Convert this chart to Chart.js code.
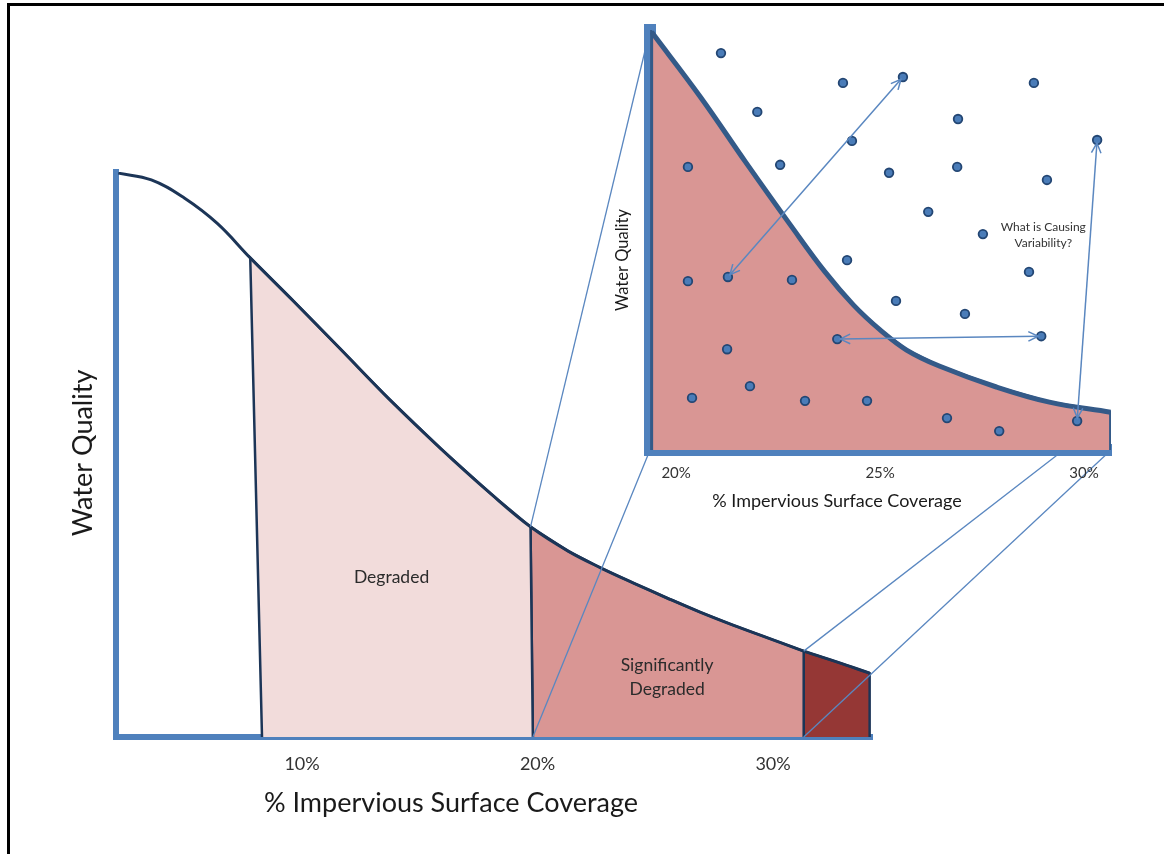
<!DOCTYPE html>
<html><head><meta charset="utf-8">
<script src="https://cdn.jsdelivr.net/npm/chart.js@4.4.0/dist/chart.umd.min.js"></script>
<style>
html,body{margin:0;padding:0;background:#fff;}
#wrap{position:relative;width:1164px;height:854px;overflow:hidden;background:#fff;}
#wrap canvas{position:absolute;left:0;top:0;width:1164px;height:854px;}
#frame{position:absolute;left:7px;top:3px;width:1170px;height:870px;border-left:3px solid #000;border-top:3px solid #000;pointer-events:none;}
</style></head><body>
<div id="wrap">
<canvas id="main" width="1164" height="854"></canvas>
<canvas id="inset" width="1164" height="854"></canvas>
<div id="frame"></div>
</div>
<script>
// ---------- main chart data ----------
const mainTicks = [10, 20, 30];
const curveX = [2.2, 3.6, 5.0, 6.4, 7.8, 9.6, 11.6, 13.7, 15.9, 18.0, 19.7, 21.3, 22.7, 24.1, 25.5, 26.9, 28.3, 29.8, 31.3, 32.7, 34.1];
const curveY = [99.8, 98.6, 95.4, 90.9, 84.8, 77.3, 68.8, 59.8, 51.0, 43.1, 37.2, 32.9, 29.9, 27.2, 24.6, 22.1, 19.8, 17.5, 15.2, 13.3, 11.3];
const zoneTopX = [7.8, 19.7, 31.3, 34.1];
const zoneBaseX = [8.3, 19.8, 31.3, 34.1];

// ---------- inset chart data ----------
const insetTicks = [20, 25, 30];
const insetCurveX = [19.4, 20.6, 21.7, 22.8, 23.65, 24.35, 25.0, 25.65, 26.45, 27.85, 29.15, 30.65];
const insetCurveY = [99.5, 84.0, 68.6, 53.6, 42.4, 34.5, 28.6, 23.8, 20.0, 15.0, 11.4, 9.0];
const siteX = [21.10, 24.09, 25.56, 28.77, 21.99, 26.91, 24.31, 30.32, 20.29, 22.55, 25.22, 26.89, 29.09, 26.18, 27.52, 24.19, 20.29, 21.27, 22.84, 28.65, 25.39, 27.08, 23.95, 28.95, 21.25, 21.81, 20.39, 23.16, 24.68, 26.64, 27.92, 29.83];
const siteY = [94.5, 87.4, 88.8, 87.4, 80.5, 78.8, 73.6, 73.8, 67.4, 67.9, 66.0, 67.4, 64.3, 56.7, 51.4, 45.2, 40.2, 41.2, 40.5, 42.4, 35.5, 32.4, 26.4, 27.1, 24.0, 15.2, 12.4, 11.7, 11.7, 7.6, 4.5, 6.9];
const arrowPairs = [[17, 2], [22, 23], [31, 7]];

// connectors: main (x,y) -> inset (x,y)
const connMainX = [19.7, 19.8, 31.3, 31.3];
const connMainY = [37.2, 0, 15.2, 0];
const connInsetX = [19.36, 19.36, 29.5, 30.66];
const connInsetY = [100, 0, 0, 0];

const F = 'Lato, "Open Sans", sans-serif';
const NAVY = '#1c3557';
const AXIS = '#4f81bd';

function drawText(ctx, text, x, y, size, color, rot) {
  ctx.save();
  ctx.translate(x, y);
  if (rot) ctx.rotate(rot);
  ctx.font = size + 'px ' + F;
  ctx.fillStyle = color;
  ctx.textAlign = 'center';
  ctx.textBaseline = 'middle';
  ctx.fillText(text, 0, 0);
  ctx.restore();
}

const curve = curveX.map((x, i) => ({x, y: curveY[i]}));
function zonePolygon(i) {
  const pts = [{x: zoneBaseX[i], y: 0}];
  curveX.forEach((x, k) => { if (x >= zoneTopX[i] - 1e-9 && x <= zoneTopX[i + 1] + 1e-9) pts.push({x, y: curveY[k]}); });
  pts.push({x: zoneBaseX[i + 1], y: 0});
  return pts;
}
const insetCurve = insetCurveX.map((x, i) => ({x, y: insetCurveY[i]}));
const insetZone = [{x: insetCurveX[0], y: 0}].concat(insetCurve, [{x: insetCurveX[insetCurveX.length - 1], y: 0}]);
const sites = siteX.map((x, i) => ({x, y: siteY[i]}));

function arrowHead(ctx, tx, ty, fx, fy, len) {
  const a = Math.atan2(ty - fy, tx - fx);
  ctx.beginPath();
  ctx.moveTo(tx - len * Math.cos(a - 0.45), ty - len * Math.sin(a - 0.45));
  ctx.lineTo(tx, ty);
  ctx.lineTo(tx - len * Math.cos(a + 0.45), ty - len * Math.sin(a + 0.45));
  ctx.stroke();
}

const insetPlugin = {
  id: 'insetDecor',
  afterDatasetsDraw(chart) {
    const ctx = chart.ctx, sx = chart.scales.x, sy = chart.scales.y;
    ctx.save();
    ctx.strokeStyle = '#5a87c0';
    ctx.lineWidth = 1.5;
    arrowPairs.forEach(([a, b]) => {
      let x1 = sx.getPixelForValue(siteX[a]), y1 = sy.getPixelForValue(siteY[a]);
      let x2 = sx.getPixelForValue(siteX[b]), y2 = sy.getPixelForValue(siteY[b]);
      const d = Math.hypot(x2 - x1, y2 - y1), ux = (x2 - x1) / d, uy = (y2 - y1) / d;
      x1 += ux * 3; y1 += uy * 3; x2 -= ux * 3; y2 -= uy * 3;
      ctx.beginPath(); ctx.moveTo(x1, y1); ctx.lineTo(x2, y2); ctx.stroke();
      arrowHead(ctx, x1, y1, x2, y2, 11);
      arrowHead(ctx, x2, y2, x1, y1, 11);
    });
    ctx.restore();
    const qx = sx.getPixelForValue(29.0), qy = sy.getPixelForValue(51.2);
    drawText(ctx, 'What is Causing', qx, qy - 8, 12, '#333', 0);
    drawText(ctx, 'Variability?', qx, qy + 8, 12, '#333', 0);
  },
  afterDraw(chart) {
    const ctx = chart.ctx;
    drawText(ctx, 'Water Quality', 623, 260, 16.5, '#1a1a1a', -Math.PI / 2);
    drawText(ctx, '% Impervious Surface Coverage', 837, 501, 18, '#1a1a1a', 0);
  }
};

const insetChart = new Chart(document.getElementById('inset'), {
  type: 'scatter',
  data: { datasets: [
    { label: 'Sites', data: sites, showLine: false, pointRadius: 4.3, pointHoverRadius: 4.3, pointBorderWidth: 1.8, backgroundColor: '#4a7cb8', borderColor: '#234673' },
    { label: 'Curve', data: insetCurve, showLine: true, borderColor: '#345a88', borderWidth: 5, pointRadius: 0, tension: 0.4, fill: false },
    { label: 'Zone', data: insetZone, showLine: true, borderColor: '#345a88', borderWidth: 3, backgroundColor: '#d99694', fill: 'shape', pointRadius: 0, tension: 0 }
  ]},
  options: {
    responsive: false, animation: false, devicePixelRatio: 1, events: [],
    layout: { padding: { left: 650, top: 30, right: 53, bottom: 0 } },
    plugins: { legend: { display: false }, tooltip: { enabled: false } },
    scales: {
      x: { type: 'linear', min: 19.36, max: 30.66, z: 1,
        afterFit: s => { s.height = 404; },
        afterBuildTicks: s => { s.ticks = insetTicks.map(v => ({value: v})); },
        grid: { display: false, drawTicks: false, tickLength: 0 },
        border: { display: true, color: AXIS, width: 12 },
        ticks: { padding: 14, color: '#333', font: { family: F, size: 15 }, maxRotation: 0, callback: v => v + '%' } },
      y: { type: 'linear', min: 0, max: 100, z: 1,
        afterFit: s => { s.width = 0; },
        grid: { display: false, drawTicks: false, tickLength: 0 },
        border: { display: true, color: AXIS, width: 12 },
        ticks: { display: false } }
    }
  },
  plugins: [insetPlugin]
});

const mainPlugin = {
  id: 'mainDecor',
  afterDatasetsDraw(chart) {
    const ctx = chart.ctx, sx = chart.scales.x, sy = chart.scales.y;
    const ix = insetChart.scales.x, iy = insetChart.scales.y;
    const lx = sx.getPixelForValue(13.8), ly = sy.getPixelForValue(28.3);
    drawText(ctx, 'Degraded', lx, ly, 17.5, '#2b2b2b', 0);
    const mx = sx.getPixelForValue(25.5), my = sy.getPixelForValue(10.6);
    drawText(ctx, 'Significantly', mx, my - 12, 17.5, '#2b2b2b', 0);
    drawText(ctx, 'Degraded', mx, my + 12, 17.5, '#2b2b2b', 0);
    ctx.save();
    ctx.strokeStyle = '#5a87c0';
    ctx.lineWidth = 1.3;
    connMainX.forEach((x, i) => {
      ctx.beginPath();
      ctx.moveTo(sx.getPixelForValue(x), sy.getPixelForValue(connMainY[i]));
      ctx.lineTo(ix.getPixelForValue(connInsetX[i]), iy.getPixelForValue(connInsetY[i]));
      ctx.stroke();
    });
    ctx.restore();
  },
  afterDraw(chart) {
    const ctx = chart.ctx;
    drawText(ctx, 'Water Quality', 83, 453, 27, '#1a1a1a', -Math.PI / 2);
    drawText(ctx, '% Impervious Surface Coverage', 451, 803, 27, '#1a1a1a', 0);
  }
};

const zoneBase = { showLine: true, fill: 'shape', borderColor: NAVY, borderWidth: 2.5, pointRadius: 0, tension: 0 };
const mainChart = new Chart(document.getElementById('main'), {
  type: 'scatter',
  data: { datasets: [
    { label: 'Water quality', data: curve, showLine: true, borderColor: NAVY, borderWidth: 3, pointRadius: 0, tension: 0.4, fill: false },
    Object.assign({ label: 'Degraded', data: zonePolygon(0), backgroundColor: '#f2dcdb' }, zoneBase),
    Object.assign({ label: 'Significantly Degraded', data: zonePolygon(1), backgroundColor: '#d99694' }, zoneBase),
    Object.assign({ label: 'Severely Degraded', data: zonePolygon(2), backgroundColor: '#953735' }, zoneBase)
  ]},
  options: {
    responsive: false, animation: false, devicePixelRatio: 1, events: [],
    layout: { padding: { left: 116, top: 172, right: 292, bottom: 0 } },
    plugins: { legend: { display: false }, tooltip: { enabled: false } },
    scales: {
      x: { type: 'linear', min: 2.1, max: 34.2, z: 1,
        afterFit: s => { s.height = 117; },
        afterBuildTicks: s => { s.ticks = mainTicks.map(v => ({value: v})); },
        grid: { display: false, drawTicks: false, tickLength: 0 },
        border: { display: true, color: AXIS, width: 6 },
        ticks: { padding: 16, color: '#333', font: { family: F, size: 18 }, maxRotation: 0, callback: v => v + '%' } },
      y: { type: 'linear', min: 0, max: 100, z: 1,
        afterFit: s => { s.width = 0; },
        grid: { display: false, drawTicks: false, tickLength: 0 },
        border: { display: true, color: AXIS, width: 6 },
        ticks: { display: false } }
    }
  },
  plugins: [mainPlugin]
});
</script>
</body></html>
